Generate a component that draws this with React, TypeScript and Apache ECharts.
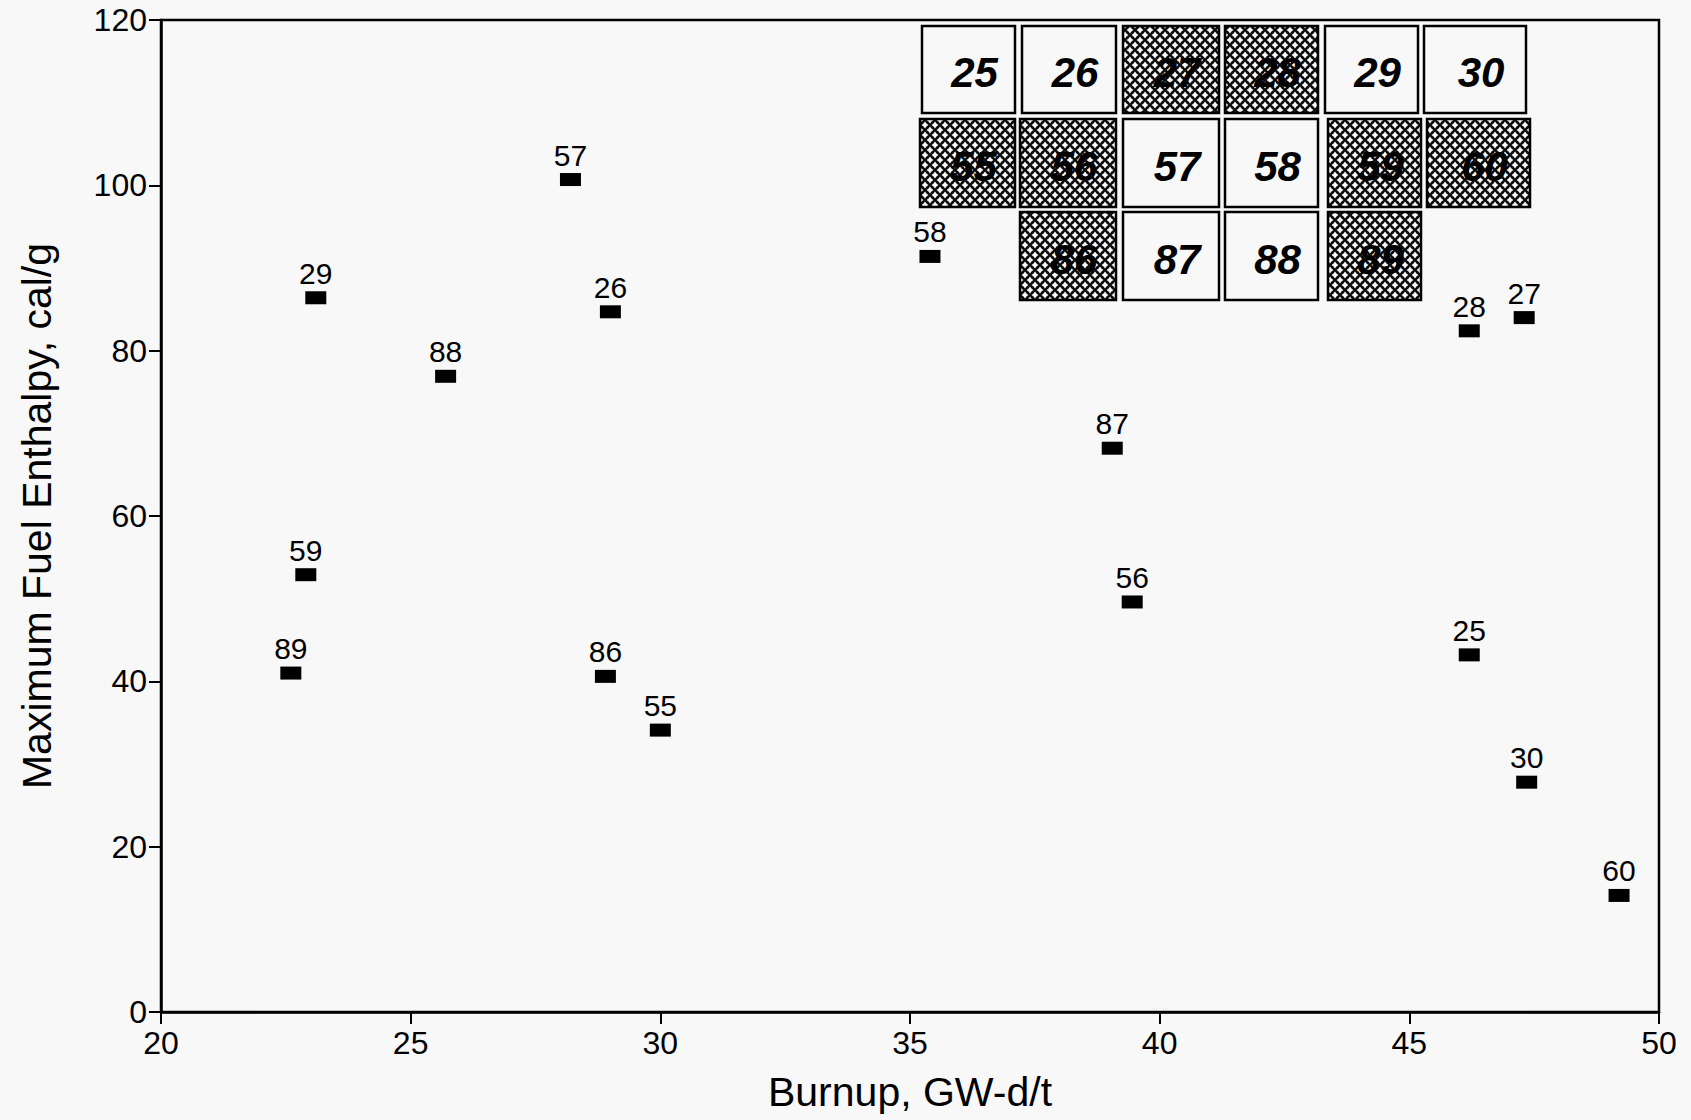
import React, { useEffect, useRef } from 'react';
import * as echarts from 'echarts';

// ---- data ----
const pointLabels = ['29', '59', '89', '88', '57', '26', '86', '55', '58', '87', '56', '28', '27', '25', '30', '60'];
const burnup = [23.1, 22.9, 22.6, 25.7, 28.2, 29.0, 28.9, 30.0, 35.4, 39.05, 39.45, 46.2, 47.3, 46.2, 47.35, 49.2];
const enthalpy = [86.4, 52.9, 41.0, 76.9, 100.7, 84.7, 40.6, 34.1, 91.4, 68.2, 49.6, 82.4, 84.0, 43.2, 27.8, 14.1];

const xMin = 20;
const xMax = 50;
const xStep = 5;
const yMin = 0;
const yMax = 120;
const yStep = 20;

const insetRow1 = ['25', '26', '27', '28', '29', '30'];
const insetRow2 = ['55', '56', '57', '58', '59', '60'];
const insetRow3 = ['86', '87', '88', '89'];
const hatchedCells = ['27', '28', '55', '56', '59', '60', '86', '89'];

// ---- inset layout (pixels) ----
const rowY = [
  [26, 113],
  [119, 207],
  [212, 300],
];
const rowCols = [
  [[922, 1015], [1022, 1116], [1123, 1219], [1225, 1318], [1325, 1418], [1424, 1526]],
  [[920, 1015], [1020, 1116], [1123, 1219], [1225, 1318], [1328, 1421], [1427, 1530]],
  [[1020, 1116], [1123, 1219], [1225, 1318], [1328, 1421]],
];

function makePattern(): any {
  const s = 10;
  const c = document.createElement('canvas');
  c.width = s;
  c.height = s;
  const ctx = c.getContext('2d')!;
  ctx.fillStyle = '#0d0d0d';
  ctx.fillRect(0, 0, s, s);
  ctx.fillStyle = '#f8f8f8';
  const blob = (cx: number, cy: number, r: number) => {
    ctx.beginPath();
    ctx.moveTo(cx, cy - r);
    ctx.quadraticCurveTo(cx + r * 0.35, cy - r * 0.35, cx + r, cy);
    ctx.quadraticCurveTo(cx + r * 0.35, cy + r * 0.35, cx, cy + r);
    ctx.quadraticCurveTo(cx - r * 0.35, cy + r * 0.35, cx - r, cy);
    ctx.quadraticCurveTo(cx - r * 0.35, cy - r * 0.35, cx, cy - r);
    ctx.closePath();
    ctx.fill();
  };
  [[0, 0], [s, 0], [0, s], [s, s], [s / 2, s / 2]].forEach(([x, y]) => blob(x, y, 3.4));
  return { image: c, repeat: 'repeat', imageWidth: s, imageHeight: s };
}

export default function App() {
  const ref = useRef<HTMLDivElement>(null);

  useEffect(() => {
    document.body.style.margin = '0';
    document.body.style.overflow = 'hidden';
    const chart = echarts.init(ref.current!, null, { renderer: 'svg' });
    const pattern = makePattern();

    const rows = [insetRow1, insetRow2, insetRow3];
    const graphics: any[] = [];
    rows.forEach((row, ri) => {
      row.forEach((label, ci) => {
        const [x0, x1] = rowCols[ri][ci];
        const [y0, y1] = rowY[ri];
        const hatched = hatchedCells.includes(label);
        graphics.push({
          type: 'rect',
          shape: { x: x0, y: y0, width: x1 - x0, height: y1 - y0 },
          style: { fill: hatched ? pattern : '#f8f8f8', stroke: '#000', lineWidth: 2.5 },
          z: 10,
        });
        graphics.push({
          type: 'text',
          style: {
            text: label,
            x: (x0 + x1) / 2 + 6,
            y: (y0 + y1) / 2 + 3,
            align: 'center',
            verticalAlign: 'middle',
            font: 'italic bold 42px "Liberation Sans", Arial, sans-serif',
            fill: '#000',
          },
          z: 11,
        });
      });
    });

    const data = burnup.map((x, i) => [x, enthalpy[i], pointLabels[i]]);
    const font = '"Liberation Sans", Arial, sans-serif';

    chart.setOption({
      animation: false,
      backgroundColor: '#f8f8f8',
      grid: {
        left: 161,
        right: 32,
        top: 20,
        bottom: 108,
        show: true,
        borderColor: '#000',
        borderWidth: 2.5,
        backgroundColor: 'transparent',
      },
      xAxis: {
        type: 'value',
        min: xMin,
        max: xMax,
        interval: xStep,
        name: 'Burnup, GW-d/t',
        nameLocation: 'middle',
        nameGap: 59,
        nameTextStyle: { fontFamily: font, fontSize: 41, color: '#000' },
        axisLine: { show: true, lineStyle: { color: '#000', width: 2.5 } },
        axisTick: { show: true, inside: false, length: 12, lineStyle: { color: '#000', width: 2 } },
        axisLabel: { fontFamily: font, fontSize: 32, color: '#000', margin: 15 },
        splitLine: { show: false },
      },
      yAxis: {
        type: 'value',
        min: yMin,
        max: yMax,
        interval: yStep,
        name: 'Maximum Fuel Enthalpy, cal/g',
        nameLocation: 'middle',
        nameGap: 104,
        nameTextStyle: { fontFamily: font, fontSize: 41, color: '#000' },
        axisLine: { show: true, lineStyle: { color: '#000', width: 2.5 } },
        axisTick: { show: true, inside: false, length: 12, lineStyle: { color: '#000', width: 2 } },
        axisLabel: { fontFamily: font, fontSize: 32, color: '#000', margin: 14 },
        splitLine: { show: false },
      },
      series: [
        {
          type: 'scatter',
          data,
          symbol: 'rect',
          symbolSize: [21, 13],
          itemStyle: { color: '#000', opacity: 1 },
          label: {
            show: true,
            position: 'top',
            distance: 3,
            formatter: (p: any) => p.value[2],
            fontFamily: font,
            fontSize: 30,
            color: '#000',
          },
        },
      ],
      graphic: graphics,
    });

    return () => chart.dispose();
  }, []);

  return <div ref={ref} style={{ width: 1691, height: 1120 }} />;
}
